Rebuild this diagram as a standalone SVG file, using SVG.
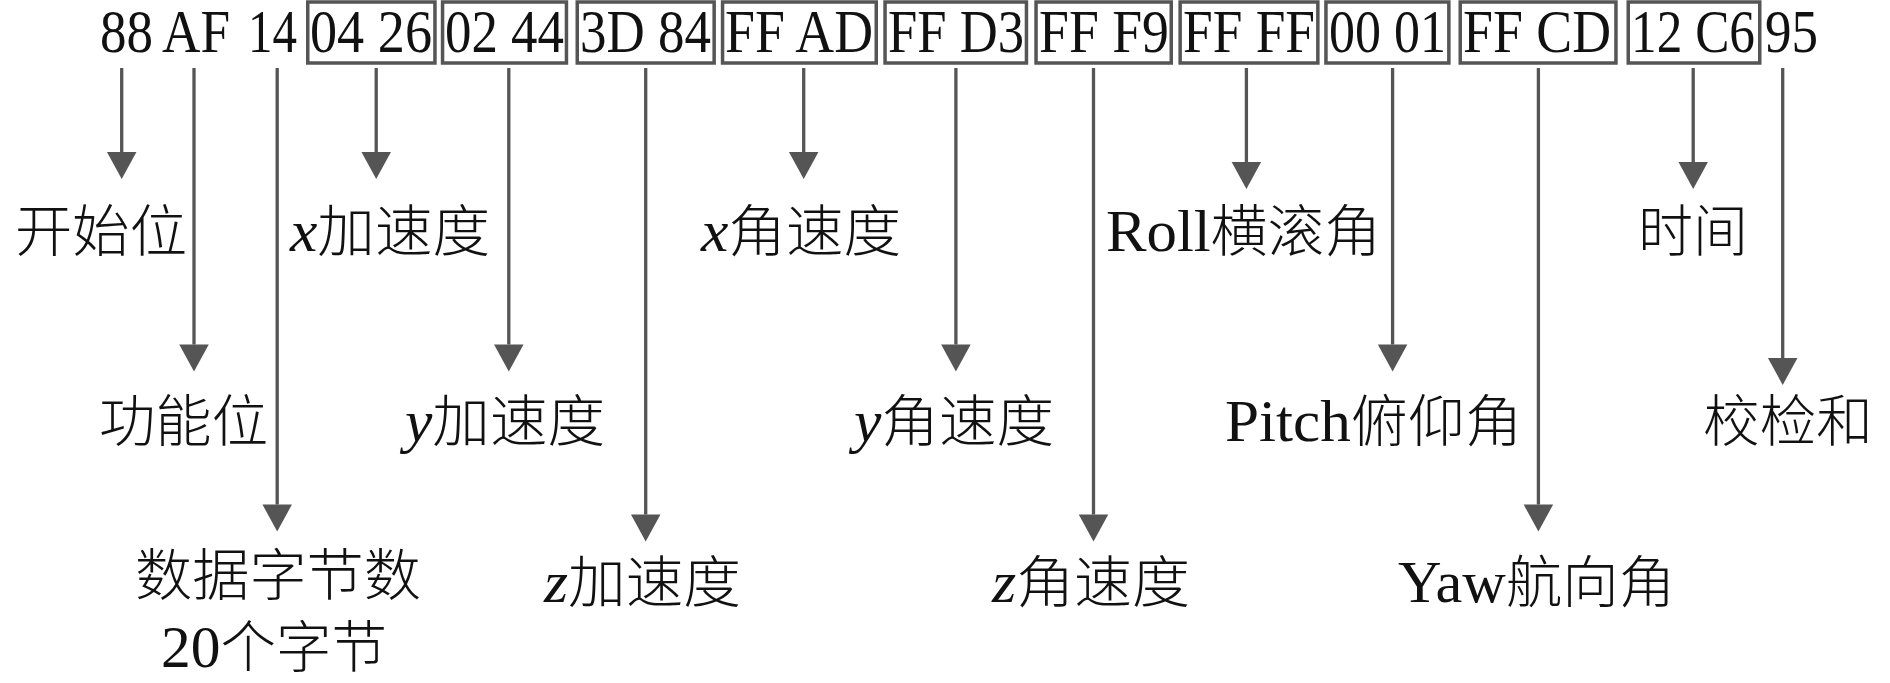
<svg xmlns="http://www.w3.org/2000/svg" width="1890" height="683" viewBox="0 0 1890 683">
<style>
.hex{font-family:"Liberation Serif","Times New Roman",serif;font-size:61px;fill:#111}
.lbl{font-family:"Liberation Serif","Noto Sans CJK SC",serif;font-size:56px;fill:#111}
.lat{font-family:"Liberation Serif",serif;font-size:60px}
.it{font-family:"Liberation Serif",serif;font-style:italic;font-size:60px}
.cjk{font-family:"Noto Sans CJK SC",sans-serif;font-size:56px;font-weight:300}
.box{fill:none;stroke:#555;stroke-width:3.5}
.con{stroke:#555;stroke-width:3.3;fill:none;marker-end:url(#ah)}
</style>
<defs>
<marker id="ah" markerUnits="userSpaceOnUse" markerWidth="30" markerHeight="32" refX="0" refY="0" orient="auto" viewBox="0 -16 28 32" overflow="visible">
<path d="M0,-14.75 L27,0 L0,14.75 Z" fill="#555"/>
</marker>
</defs>
<rect width="1890" height="683" fill="#fff"/>
<g id="bytes">
<g id="b88"><text class="hex" x="100" y="52" textLength="53" lengthAdjust="spacingAndGlyphs">88</text></g>
<g id="bAF"><text class="hex" x="162" y="52" textLength="68" lengthAdjust="spacingAndGlyphs">AF</text></g>
<g id="b14"><text class="hex" x="248" y="52" textLength="49" lengthAdjust="spacingAndGlyphs">14</text></g>
<g id="b0426"><rect class="box" x="307.75" y="2" width="127.2" height="61"/><text class="hex" x="310" y="52" textLength="122" lengthAdjust="spacingAndGlyphs">04 26</text></g>
<g id="b0244"><rect class="box" x="442.55" y="2" width="123.9" height="61"/><text class="hex" x="445" y="52" textLength="119" lengthAdjust="spacingAndGlyphs">02 44</text></g>
<g id="b3D84"><rect class="box" x="577.25" y="2" width="136.9" height="61"/><text class="hex" x="580" y="52" textLength="131" lengthAdjust="spacingAndGlyphs">3D 84</text></g>
<g id="bFFAD"><rect class="box" x="722.55" y="2" width="153.7" height="61"/><text class="hex" x="725" y="52" textLength="148" lengthAdjust="spacingAndGlyphs">FF AD</text></g>
<g id="bFFD3"><rect class="box" x="885.05" y="2" width="141.4" height="61"/><text class="hex" x="888" y="52" textLength="136" lengthAdjust="spacingAndGlyphs">FF D3</text></g>
<g id="bFFF9"><rect class="box" x="1036.05" y="2" width="135.2" height="61"/><text class="hex" x="1039" y="52" textLength="130" lengthAdjust="spacingAndGlyphs">FF F9</text></g>
<g id="bFFFF"><rect class="box" x="1180.15" y="2" width="137.7" height="61"/><text class="hex" x="1183" y="52" textLength="132" lengthAdjust="spacingAndGlyphs">FF FF</text></g>
<g id="b0001"><rect class="box" x="1325.95" y="2" width="122.9" height="61"/><text class="hex" x="1329" y="52" textLength="117" lengthAdjust="spacingAndGlyphs">00 01</text></g>
<g id="bFFCD"><rect class="box" x="1460.25" y="2" width="155.7" height="61"/><text class="hex" x="1463" y="52" textLength="148" lengthAdjust="spacingAndGlyphs">FF CD</text></g>
<g id="b12C6"><rect class="box" x="1628.25" y="2" width="131.5" height="61"/><text class="hex" x="1631" y="52" textLength="124" lengthAdjust="spacingAndGlyphs">12 C6</text></g>
<g id="b95"><text class="hex" x="1765" y="52" textLength="53" lengthAdjust="spacingAndGlyphs">95</text></g>
</g>
<g id="connectors">
<line class="con" x1="121.7" y1="68" x2="121.7" y2="152"/>
<line class="con" x1="194" y1="68" x2="194" y2="344.5"/>
<line class="con" x1="277.2" y1="68" x2="277.2" y2="504.5"/>
<line class="con" x1="376.2" y1="68" x2="376.2" y2="152"/>
<line class="con" x1="508.8" y1="68" x2="508.8" y2="344.5"/>
<line class="con" x1="645.7" y1="68" x2="645.7" y2="514.5"/>
<line class="con" x1="803.7" y1="68" x2="803.7" y2="152"/>
<line class="con" x1="955.9" y1="68" x2="955.9" y2="344.5"/>
<line class="con" x1="1093.5" y1="68" x2="1093.5" y2="514.5"/>
<line class="con" x1="1246.4" y1="68" x2="1246.4" y2="162"/>
<line class="con" x1="1392.6" y1="68" x2="1392.6" y2="344.5"/>
<line class="con" x1="1538.4" y1="68" x2="1538.4" y2="504.5"/>
<line class="con" x1="1693.2" y1="68" x2="1693.2" y2="162"/>
<line class="con" x1="1782.7" y1="68" x2="1782.7" y2="358"/>
</g>
<g id="l-start"><text class="lbl" x="15" y="251" textLength="172" lengthAdjust="spacingAndGlyphs"><tspan class="cjk">开始位</tspan></text></g>
<g id="l-xacc"><text class="lbl" x="290" y="251" textLength="200" lengthAdjust="spacingAndGlyphs"><tspan class="it">x</tspan><tspan class="cjk">加速度</tspan></text></g>
<g id="l-xang"><text class="lbl" x="701" y="251" textLength="200" lengthAdjust="spacingAndGlyphs"><tspan class="it">x</tspan><tspan class="cjk">角速度</tspan></text></g>
<g id="l-roll"><text class="lbl" x="1106" y="251" textLength="275" lengthAdjust="spacingAndGlyphs"><tspan class="lat">Roll</tspan><tspan class="cjk">横滚角</tspan></text></g>
<g id="l-time"><text class="lbl" x="1638" y="251" textLength="110" lengthAdjust="spacingAndGlyphs"><tspan class="cjk">时间</tspan></text></g>
<g id="l-func"><text class="lbl" x="99" y="441" textLength="169" lengthAdjust="spacingAndGlyphs"><tspan class="cjk">功能位</tspan></text></g>
<g id="l-yacc"><text class="lbl" x="405" y="441" textLength="200" lengthAdjust="spacingAndGlyphs"><tspan class="it">y</tspan><tspan class="cjk">加速度</tspan></text></g>
<g id="l-yang"><text class="lbl" x="854" y="441" textLength="200" lengthAdjust="spacingAndGlyphs"><tspan class="it">y</tspan><tspan class="cjk">角速度</tspan></text></g>
<g id="l-pitch"><text class="lbl" x="1225" y="441" textLength="297" lengthAdjust="spacingAndGlyphs"><tspan class="lat">Pitch</tspan><tspan class="cjk">俯仰角</tspan></text></g>
<g id="l-sum"><text class="lbl" x="1703" y="441" textLength="170" lengthAdjust="spacingAndGlyphs"><tspan class="cjk">校检和</tspan></text></g>
<g id="l-len"><text class="lbl" x="135" y="595" textLength="286" lengthAdjust="spacingAndGlyphs"><tspan class="cjk">数据字节数</tspan></text><text class="lbl" x="161" y="667" textLength="226" lengthAdjust="spacingAndGlyphs"><tspan class="lat">20</tspan><tspan class="cjk">个字节</tspan></text></g>
<g id="l-zacc"><text class="lbl" x="544" y="602" textLength="197" lengthAdjust="spacingAndGlyphs"><tspan class="it">z</tspan><tspan class="cjk">加速度</tspan></text></g>
<g id="l-zang"><text class="lbl" x="992" y="602" textLength="198" lengthAdjust="spacingAndGlyphs"><tspan class="it">z</tspan><tspan class="cjk">角速度</tspan></text></g>
<g id="l-yaw"><text class="lbl" x="1398" y="602" textLength="277" lengthAdjust="spacingAndGlyphs"><tspan class="lat">Yaw</tspan><tspan class="cjk">航向角</tspan></text></g>
</svg>
